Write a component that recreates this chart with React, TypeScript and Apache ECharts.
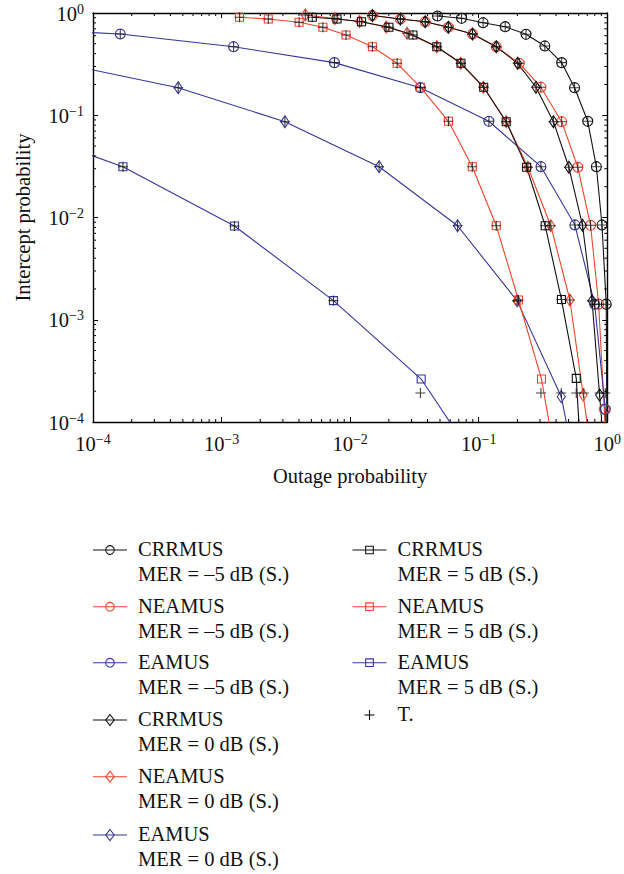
import React, { useEffect, useRef } from 'react';
import * as echarts from 'echarts';

// ---------- data: [outage probability, intercept probability] ----------
const crrmusM5: number[][] = [
  [0.0478, 0.935], [0.0736, 0.888], [0.1082, 0.804], [0.1608, 0.734], [0.2333, 0.619],
  [0.327, 0.476], [0.442, 0.327], [0.557, 0.186], [0.705, 0.0873], [0.823, 0.0314],
  [0.910, 0.00845], [0.982, 0.00142], [0.998, 3.2e-5],
];
const neamusM5: number[][] = [
  [0.0149, 0.945], [0.0246, 0.874], [0.0384, 0.822], [0.0581, 0.725], [0.0895, 0.623],
  [0.137, 0.468], [0.207, 0.322], [0.3045, 0.188], [0.442, 0.0865], [0.59, 0.031],
  [0.742, 0.00839], [0.857, 0.00142], [0.948, 1.34e-4], [0.995, 3.2e-5],
];
const eamusM5: number[][] = [
  [3.16e-5, 0.689], [1.63e-4, 0.623], [1.24e-3, 0.468], [7.55e-3, 0.327], [0.0352, 0.186],
  [0.12, 0.0873], [0.305, 0.0314], [0.56, 0.00845], [0.798, 0.00142], [0.966, 1.33e-4],
  [0.998, 3.2e-5],
];
const crrmus0: number[][] = [
  [0.0149, 0.945], [0.0246, 0.874], [0.0384, 0.822], [0.0581, 0.725], [0.0895, 0.623],
  [0.137, 0.468], [0.201, 0.322], [0.279, 0.188], [0.3815, 0.0865], [0.503, 0.031],
  [0.642, 0.00839], [0.762, 0.00153], [0.872, 1.84e-4], [0.975, 3.2e-5],
];
const neamus0: number[][] = [
  [4.48e-3, 0.956], [7.6e-3, 0.884], [0.01183, 0.826], [0.0191, 0.73], [0.0277, 0.633],
  [0.0472, 0.468], [0.0724, 0.322], [0.1088, 0.188], [0.1637, 0.0865], [0.2416, 0.031],
  [0.3637, 0.00831], [0.5123, 0.00156], [0.6497, 1.84e-4], [0.79, 3.2e-5],
];
const eamus0: number[][] = [
  [3.16e-5, 0.375], [4.6e-4, 0.186], [3.11e-3, 0.0865], [0.0168, 0.0314], [0.0685, 0.00831],
  [0.199, 0.00153], [0.439, 1.77e-4], [0.575, 3.16e-5],
];
const crrmus5: number[][] = [
  [5.08e-3, 0.908], [7.91e-3, 0.874], [0.01226, 0.822], [0.02004, 0.725], [0.0308, 0.609],
  [0.0472, 0.468], [0.0728, 0.322], [0.1094, 0.188], [0.1637, 0.0865], [0.236, 0.031],
  [0.329, 0.00831], [0.44, 0.00158], [0.574, 2.67e-4], [0.635, 3.16e-5],
];
const neamus5: number[][] = [
  [1.38e-3, 0.908], [2.31e-3, 0.874], [4.01e-3, 0.811], [6.14e-3, 0.725], [9.29e-3, 0.609],
  [0.0149, 0.468], [0.0232, 0.322], [0.0352, 0.188], [0.0582, 0.0873], [0.0892, 0.0314],
  [0.137, 0.00831], [0.204, 0.00156], [0.308, 2.63e-4], [0.414, 3.16e-5],
];
const eamus5: number[][] = [
  [3.16e-5, 0.067], [1.71e-4, 0.0314], [1.26e-3, 0.00826], [7.42e-3, 0.00154],
  [0.0357, 2.63e-4], [0.11, 3.16e-5],
];
// theory markers where they differ from the simulated points (lowest row)
const theoryLow: number[][] = [
  [0.0352, 1.92e-4], [0.305, 1.92e-4], [0.439, 1.92e-4], [0.574, 1.92e-4],
  [0.657, 1.92e-4], [0.872, 1.92e-4], [0.966, 1.92e-4],
];

const decades = [1e-4, 1e-3, 1e-2, 1e-1, 1];
const tickExponents = ['\u22124', '\u22123', '\u22122', '\u22121', '0'];
const minorMultipliers = [2, 3, 4, 5, 6, 7, 8, 9];

const BLACK = '#111111';
const RED = '#f0452a';
const BLUE = '#35359a';
const TEXT = '#111111';
const FONT = 'Liberation Serif';

const SIM = [
  { name: 'CRRMUS MER = \u22125 dB (S.)', l1: 'CRRMUS', l2: 'MER = \u20135 dB (S.)', data: crrmusM5, color: BLACK, symbol: 'circle', col: 0, row: 0 },
  { name: 'NEAMUS MER = \u22125 dB (S.)', l1: 'NEAMUS', l2: 'MER = \u20135 dB (S.)', data: neamusM5, color: RED, symbol: 'circle', col: 0, row: 1 },
  { name: 'EAMUS MER = \u22125 dB (S.)', l1: 'EAMUS', l2: 'MER = \u20135 dB (S.)', data: eamusM5, color: BLUE, symbol: 'circle', col: 0, row: 2 },
  { name: 'CRRMUS MER = 0 dB (S.)', l1: 'CRRMUS', l2: 'MER = 0 dB (S.)', data: crrmus0, color: BLACK, symbol: 'diamond', col: 0, row: 3 },
  { name: 'NEAMUS MER = 0 dB (S.)', l1: 'NEAMUS', l2: 'MER = 0 dB (S.)', data: neamus0, color: RED, symbol: 'diamond', col: 0, row: 4 },
  { name: 'EAMUS MER = 0 dB (S.)', l1: 'EAMUS', l2: 'MER = 0 dB (S.)', data: eamus0, color: BLUE, symbol: 'diamond', col: 0, row: 5 },
  { name: 'CRRMUS MER = 5 dB (S.)', l1: 'CRRMUS', l2: 'MER = 5 dB (S.)', data: crrmus5, color: BLACK, symbol: 'rect', col: 1, row: 0 },
  { name: 'NEAMUS MER = 5 dB (S.)', l1: 'NEAMUS', l2: 'MER = 5 dB (S.)', data: neamus5, color: RED, symbol: 'rect', col: 1, row: 1 },
  { name: 'EAMUS MER = 5 dB (S.)', l1: 'EAMUS', l2: 'MER = 5 dB (S.)', data: eamus5, color: BLUE, symbol: 'rect', col: 1, row: 2 },
];

const PLUS = 'path://M5,0L5,10M0,5L10,5';

function symbolSize(sym: string): number | number[] {
  if (sym === 'circle') return 10;
  if (sym === 'diamond') return [8, 12];
  return 8;
}

function legendGraphics() {
  const els: any[] = [];
  const colX = [93, 352.5];
  const rowY = [550, 606.7, 662.7, 720, 776.7, 835];
  const lineW = 34;
  SIM.forEach((s) => {
    const x0 = colX[s.col];
    const y = rowY[s.row];
    const cx = x0 + lineW / 2;
    els.push({ type: 'line', shape: { x1: x0, y1: y, x2: x0 + lineW, y2: y }, style: { stroke: s.color, lineWidth: 1.1 }, silent: true });
    if (s.symbol === 'circle') {
      els.push({ type: 'circle', shape: { cx, cy: y, r: 4.3 }, style: { stroke: s.color, fill: 'transparent', lineWidth: 1.1 } });
    } else if (s.symbol === 'diamond') {
      els.push({ type: 'polygon', shape: { points: [[cx, y - 5.5], [cx + 4.2, y], [cx, y + 5.5], [cx - 4.2, y]] }, style: { stroke: s.color, fill: 'transparent', lineWidth: 1.1 } });
    } else {
      els.push({ type: 'rect', shape: { x: cx - 3.8, y: y - 3.8, width: 7.6, height: 7.6 }, style: { stroke: s.color, fill: 'transparent', lineWidth: 1.1 } });
    }
    els.push({
      type: 'text', x: x0 + 45, y: y - 13.7,
      style: { text: s.l1 + '\n' + s.l2, fontFamily: FONT, fontSize: 20.5, lineHeight: 25, fill: TEXT, verticalAlign: 'top', align: 'left' },
    });
  });
  // theory item
  const tx = colX[1] + lineW / 2;
  const ty = 715;
  els.push({ type: 'line', shape: { x1: tx - 5, y1: ty, x2: tx + 5, y2: ty }, style: { stroke: BLACK, lineWidth: 1.1 } });
  els.push({ type: 'line', shape: { x1: tx, y1: ty - 5, x2: tx, y2: ty + 5 }, style: { stroke: BLACK, lineWidth: 1.1 } });
  els.push({ type: 'text', x: colX[1] + 45, y: ty - 13.7, style: { text: 'T.', fontFamily: FONT, fontSize: 20.5, lineHeight: 25, fill: TEXT, verticalAlign: 'top', align: 'left' } });
  return els;
}

function labelFmt(v: number): string {
  const i = decades.findIndex((d) => Math.abs(Math.log10(d) - Math.log10(v)) < 1e-6);
  if (i < 0) return '';
  return `{b|10}{s|${tickExponents[i]}}`;
}

const richLabel = {
  b: { fontFamily: FONT, fontSize: 20.5, color: TEXT, verticalAlign: 'bottom', lineHeight: 22 },
  s: { fontFamily: FONT, fontSize: 14, color: TEXT, verticalAlign: 'top', lineHeight: 14 },
};

export default function App() {
  const ref = useRef<HTMLDivElement>(null);
  useEffect(() => {
    if (!ref.current) return;
    const chart = echarts.init(ref.current, undefined, { renderer: 'svg' });

    const theoryData: number[][] = [];
    SIM.forEach((s) => s.data.forEach((p) => { if (p[1] > 1e-3 && p[0] >= 1e-4) theoryData.push(p); }));
    theoryLow.forEach((p) => theoryData.push(p));

    const minorTicks: number[][] = [];
    decades.slice(0, 4).forEach((d) => minorMultipliers.forEach((m) => minorTicks.push([m * d, m * d])));

    const axisCommon = {
      type: 'log' as const,
      logBase: 10,
      min: 1e-4,
      max: 1,
      splitLine: { show: false },
      minorTick: { show: false },
      axisLine: { show: true, lineStyle: { color: '#000', width: 1.4 } },
      axisTick: { show: true, inside: true, length: 5, lineStyle: { color: '#000', width: 1 } },
    };

    const option: any = {
      animation: false,
      backgroundColor: '#fff',
      textStyle: { fontFamily: FONT },
      grid: { left: 93, right: 12, top: 13, bottom: 452, containLabel: false },
      xAxis: [
        {
          ...axisCommon,
          position: 'bottom',
          name: 'Outage probability',
          nameLocation: 'middle',
          nameGap: 43,
          nameTextStyle: { fontFamily: FONT, fontSize: 20.5, color: TEXT },
          axisLabel: { margin: 10, fontFamily: FONT, formatter: labelFmt, rich: richLabel },
        },
        { ...axisCommon, position: 'top', axisLabel: { show: false } },
      ],
      yAxis: [
        {
          ...axisCommon,
          position: 'left',
          name: 'Intercept probability',
          nameLocation: 'middle',
          nameGap: 60,
          nameTextStyle: { fontFamily: FONT, fontSize: 20.5, color: TEXT },
          axisLabel: { margin: 9, fontFamily: FONT, formatter: labelFmt, rich: richLabel },
        },
        { ...axisCommon, position: 'right', axisLabel: { show: false } },
      ],
      series: [
        ...SIM.map((s) => ({
          type: 'line',
          name: s.name,
          data: s.data,
          xAxisIndex: 0,
          yAxisIndex: 0,
          clip: true,
          symbol: s.symbol,
          symbolSize: symbolSize(s.symbol),
          showSymbol: true,
          lineStyle: { color: s.color, width: 1.1 },
          itemStyle: { color: 'transparent', borderColor: s.color, borderWidth: 1.1 },
          emphasis: { disabled: true },
          z: 3,
        })),
        {
          type: 'scatter',
          name: 'T.',
          data: theoryData,
          symbol: PLUS,
          symbolSize: 10,
          itemStyle: { color: 'transparent', borderColor: BLACK, borderWidth: 1.1 },
          emphasis: { disabled: true },
          z: 4,
        },
        {
          type: 'custom',
          name: 'minor ticks',
          data: minorTicks,
          silent: true,
          clip: false,
          z: 5,
          renderItem: (params: any, api: any) => {
            const v = api.value(0);
            const cs = params.coordSys;
            const px = api.coord([v, 1e-2])[0];
            const py = api.coord([1e-2, v])[1];
            const L = 3;
            const st = { stroke: '#000', lineWidth: 1 };
            const b = cs.y + cs.height;
            const r = cs.x + cs.width;
            return {
              type: 'group',
              children: [
                { type: 'line', shape: { x1: px, y1: b, x2: px, y2: b - L }, style: st },
                { type: 'line', shape: { x1: px, y1: cs.y, x2: px, y2: cs.y + L }, style: st },
                { type: 'line', shape: { x1: cs.x, y1: py, x2: cs.x + L, y2: py }, style: st },
                { type: 'line', shape: { x1: r, y1: py, x2: r - L, y2: py }, style: st },
              ],
            };
          },
        },
      ],
      graphic: legendGraphics(),
    };

    chart.setOption(option);
    return () => chart.dispose();
  }, []);

  return (
    <div
      ref={ref}
      style={{ position: 'fixed', left: 0, top: 0, width: 624, height: 874, background: '#fff' }}
    />
  );
}
